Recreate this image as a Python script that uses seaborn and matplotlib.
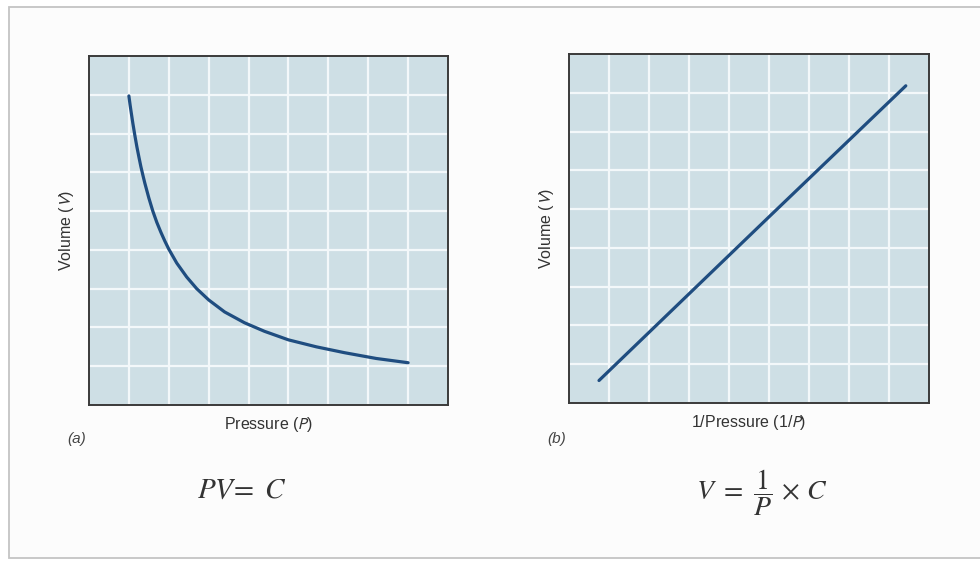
import matplotlib
matplotlib.use("Agg")
import matplotlib.pyplot as plt
import seaborn as sns
from matplotlib.patches import Rectangle

# (a) Boyle's law curve
pressure = [1.0, 1.03, 1.06, 1.1, 1.15, 1.2, 1.25, 1.3, 1.35, 1.4, 1.5, 1.6,
            1.7, 1.8, 1.9, 2.0, 2.2, 2.45, 2.7, 3.0, 3.4, 3.9, 4.4, 5.0,
            5.7, 6.4, 7.2, 8.0]
volume = [7.97, 7.74, 7.53, 7.26, 6.95, 6.66, 6.4, 6.15, 5.93, 5.72, 5.34, 5.0,
          4.71, 4.46, 4.23, 4.02, 3.66, 3.3, 3.0, 2.71, 2.4, 2.12, 1.9, 1.68,
          1.5, 1.35, 1.2, 1.09]

# (b) straight line against 1/P
inv_pressure = [0.75, 5.0, 8.42]
volume_b = [0.58, 4.8, 8.18]

grid_pos = [1, 2, 3, 4, 5, 6, 7, 8]

sns.set_theme(style="darkgrid", rc={
    "axes.facecolor": "#cedfe5",
    "grid.color": "#f3f8fa",
    "grid.linewidth": 1.6,
    "axes.edgecolor": "#3a3a3a",
    "axes.linewidth": 1.4,
})
plt.rcParams["font.family"] = ["Liberation Sans", "DejaVu Sans"]

fig = plt.figure(figsize=(9.8, 5.63), dpi=100)
fig.patch.set_facecolor("white")
fig.patches.append(Rectangle((9 / 980, 5 / 563), 1.0, 1 - 12 / 563,
                             transform=fig.transFigure, facecolor="#fcfcfc",
                             edgecolor="#c4c4c4", linewidth=1.3, zorder=-5))

ax1 = fig.add_axes([89 / 980, 1 - 405 / 563, 359 / 980, 349 / 563])
ax2 = fig.add_axes([569 / 980, 1 - 403 / 563, 360 / 980, 349 / 563])

line_color = "#1f4d80"
sns.lineplot(x=pressure, y=volume, ax=ax1, color=line_color, linewidth=2.3)
sns.lineplot(x=inv_pressure, y=volume_b, ax=ax2, color=line_color, linewidth=2.3)

label_kw = dict(fontsize=11.5, color="#333333", math_fontfamily="stixsans")
for ax in (ax1, ax2):
    ax.set_xlim(0, 9)
    ax.set_ylim(0, 9)
    ax.set_xticks(grid_pos)
    ax.set_yticks(grid_pos)
    ax.set_xticklabels([])
    ax.set_yticklabels([])
    ax.tick_params(length=0)
    for s in ax.spines.values():
        s.set_visible(True)
        s.set_color("#3a3a3a")
        s.set_linewidth(1.4)
    ax.set_ylabel(r"Volume ($V$)", labelpad=6, **label_kw)

ax1.set_xlabel(r"Pressure ($P$)", labelpad=4, **label_kw)
ax2.set_xlabel(r"1/Pressure (1/$P$)", labelpad=4, **label_kw)

fig.text(67 / 980, 1 - 439 / 563, "(a)", fontsize=11, style="italic",
         color="#444444", va="center", ha="left")
fig.text(547 / 980, 1 - 439 / 563, "(b)", fontsize=11, style="italic",
         color="#444444", va="center", ha="left")

fig.text(242 / 980, 1 - 490 / 563, r"$PV\!=\ C$", fontsize=21,
         color="#333333", ha="center", va="center", math_fontfamily="stix")
fig.text(762 / 980, 1 - 493 / 563, r"$V\ =\ \dfrac{1}{P}\,\times\,C$", fontsize=20,
         color="#333333", ha="center", va="center", math_fontfamily="stix")

fig.savefig("out.png", dpi=100, facecolor=fig.get_facecolor())
